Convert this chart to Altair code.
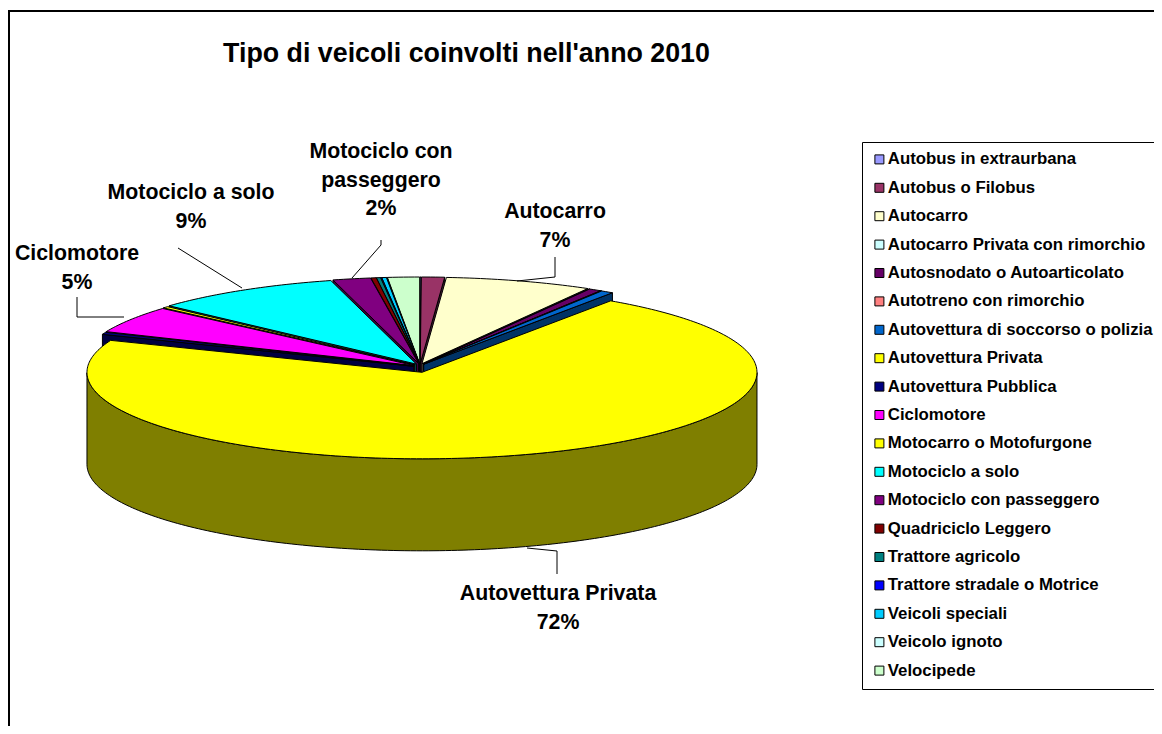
import math
import altair as alt

# ---- data (share of vehicles, %) ----
CATEGORIES = ["Autobus in extraurbana", "Autobus o Filobus", "Autocarro",
              "Autocarro Privata con rimorchio", "Autosnodato o Autoarticolato",
              "Autotreno con rimorchio", "Autovettura di soccorso o polizia",
              "Autovettura Privata", "Autovettura Pubblica", "Ciclomotore",
              "Motocarro o Motofurgone", "Motociclo a solo", "Motociclo con passeggero",
              "Quadriciclo Leggero", "Trattore agricolo", "Trattore stradale o Motrice",
              "Veicoli speciali", "Veicolo ignoto", "Velocipede"]
VALUES = [0.05, 1.1, 7.0, 0.02, 0.6, 0.05, 0.6, 70.7, 0.4, 5.0, 0.3, 9.0, 1.8,
          0.25, 0.2, 0.05, 0.22, 0.03, 1.52]
COLORS = ["#9999FF", "#993366", "#FFFFCC", "#CCFFFF", "#660066", "#FF8080", "#0066CC",
          "#FFFF00", "#000080", "#FF00FF", "#FFFF00", "#00FFFF", "#800080", "#800000",
          "#008080", "#0000FF", "#00CCFF", "#CCFFFF", "#CCFFCC"]

# ---- pie geometry (page pixels) ----
CX, CY, RX, RY, DEPTH, EXPLODE, EXPLODE_X = 420.0, 368.0, 335.0, 86.5, 92.0, 4.5, 1.5
FONT = "Liberation Sans"


def dark(c):
    return "#%02X%02X%02X" % tuple(int(c[i:i + 2], 16) // 2 for i in (1, 3, 5))


def feature(key, ring):
    return {"type": "Feature", "properties": {"key": key},
            "geometry": {"type": "Polygon", "coordinates": [ring + [ring[0]]]}}


total = sum(VALUES)
slices, start = [], 0.0
for name, v in zip(CATEGORIES, VALUES):
    span = v / total * 360
    slices.append((name, start, start + span))
    start += span


def build(name, a0, a1):
    m = math.radians((a0 + a1) / 2)
    ox = CX + EXPLODE * math.sin(m) * EXPLODE_X
    oy = CY - EXPLODE * math.cos(m)

    def pt(t, down=0.0):
        r = math.radians(t)
        return [ox + RX * math.sin(r), oy - RY * math.cos(r) + down]

    n = max(2, int((a1 - a0) / 1.0) + 2)
    arc = [a0 + (a1 - a0) * i / (n - 1) for i in range(n)]
    apex = [ox, oy]
    out = []
    wall = name + "|wall"
    # radial faces turned towards the viewer
    if a0 % 360 > 180:
        out.append(feature(wall, [apex, pt(a0), pt(a0, DEPTH), [ox, oy + DEPTH]]))
    if 0 < a1 % 360 < 180:
        out.append(feature(wall, [apex, pt(a1), pt(a1, DEPTH), [ox, oy + DEPTH]]))
    # outer rim, front half only
    front = [t for t in arc if 90 <= t <= 270]
    if len(front) > 1:
        out.append(feature(wall, [pt(t) for t in front] + [pt(t, DEPTH) for t in reversed(front)]))
    out.append(feature(name, [apex] + [pt(t) for t in arc]))
    return out


order = sorted(slices, key=lambda s: -math.cos(math.radians((s[1] + s[2]) / 2)))
features = [f for s in order for f in build(*s)]

LEADERS = [
    [[527, 548], [557, 551], [557, 574]],
    [[77, 297], [77, 317], [124, 317]],
    [[178, 248], [242, 288]],
    [[381, 240], [381, 245], [352, 278]],
    [[555, 257], [555, 277], [517, 281]],
]
leader_features = [{"type": "Feature", "properties": {},
                    "geometry": {"type": "LineString", "coordinates": c}} for c in LEADERS]

proj = alt.Projection(type="identity", scale=1, translate=[-8, -8])

pie = alt.Chart(alt.Data(values=features)).mark_geoshape(
    stroke="black", strokeWidth=1, strokeJoin="round"
).encode(
    color=alt.Color(
        "properties.key:N",
        scale=alt.Scale(domain=CATEGORIES + [c + "|wall" for c in CATEGORIES],
                        range=COLORS + [dark(c) for c in COLORS]),
        legend=alt.Legend(
            values=CATEGORIES, title=None, orient="none", legendX=854, legendY=134,
            strokeColor="black", fillColor="white", padding=9,
            symbolType="square", symbolSize=81, symbolStrokeColor="black", symbolStrokeWidth=1,
            labelFont=FONT, labelFontWeight="bold", labelFontSize=16.8, labelColor="black",
            labelLimit=500, labelOffset=0, rowPadding=10.4, symbolOpacity=1,
        ),
    )
).properties(projection=proj)

leaders = alt.Chart(alt.Data(values=leader_features)).mark_geoshape(
    filled=False, stroke="black", strokeWidth=1
).properties(projection=proj)

frame = alt.layer(
    alt.Chart(alt.Data(values=[{"a": 1}])).mark_rule(color="black", strokeWidth=2).encode(
        x=alt.value(1), y=alt.value(3), y2=alt.value(718)),
    alt.Chart(alt.Data(values=[{"a": 1}])).mark_rule(color="black", strokeWidth=2).encode(
        x=alt.value(0), x2=alt.value(1146), y=alt.value(3)),
)


def text(lines, px, py, size=21.3):
    return alt.Chart(alt.Data(values=[{"a": 1}])).mark_text(
        text=lines, font=FONT, fontWeight="bold", fontSize=size, color="black",
        align="center", baseline="middle", lineHeight=28.5,
    ).encode(x=alt.value(px - 8), y=alt.value(py - 8))


labels = [
    text("Tipo di veicoli coinvolti nell'anno 2010", 466.5, 54, 26.8),
    text(["Motociclo con", "passeggero", "2%"], 381, 152),
    text(["Autocarro", "7%"], 555, 212),
    text(["Motociclo a solo", "9%"], 191, 193),
    text(["Ciclomotore", "5%"], 77, 254),
    text(["Autovettura Privata", "72%"], 558, 594),
]

chart = alt.layer(frame, pie, leaders, *labels).properties(
    width=1146, height=718, padding=0,
    autosize=alt.AutoSizeParams(type="none", contains="padding"),
).configure_view(stroke=None)

chart.save("out.html", embed_options={"renderer": "svg", "actions": False})
